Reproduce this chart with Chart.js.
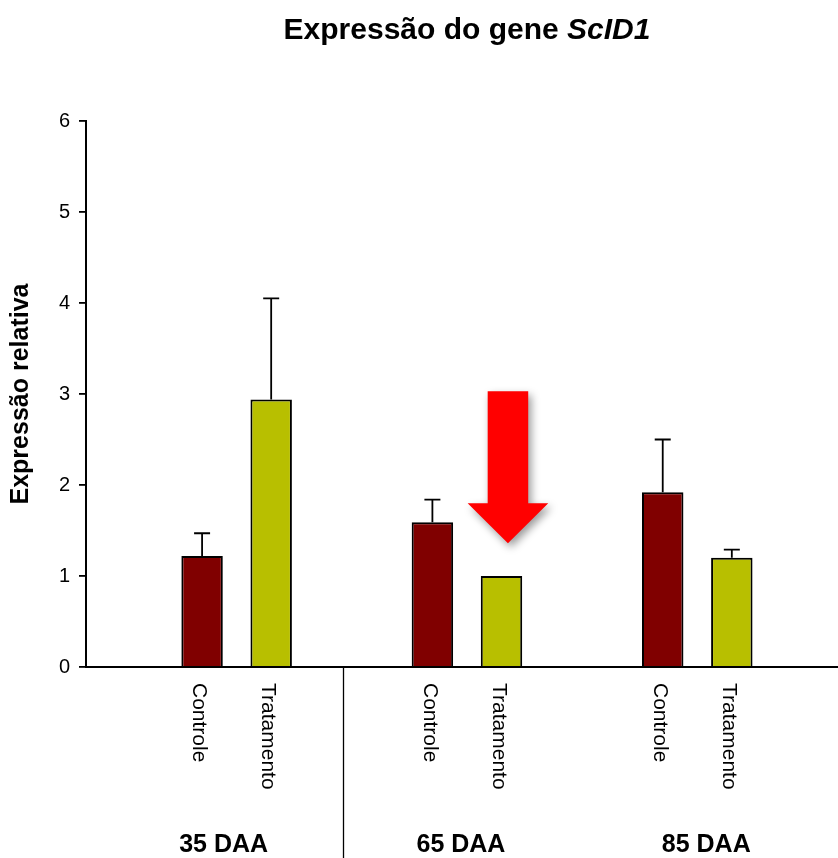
<!DOCTYPE html>
<html>
<head>
<meta charset="utf-8">
<script src="https://cdn.jsdelivr.net/npm/chart.js@4/dist/chart.umd.min.js"></script>
<style>
  html, body { margin: 0; padding: 0; background: #ffffff; }
  #wrap { width: 838px; height: 858px; position: relative; }
</style>
</head>
<body>
<div id="wrap"><canvas id="c"></canvas></div>
<script>
// Relative expression of the ScID1 gene at three sampling times
const groups = ['35 DAA', '65 DAA', '85 DAA'];
const treatments = ['Controle', 'Tratamento'];
const controle = [1.22, 1.59, 1.92];
const controleErr = [0.25, 0.25, 0.58];
const tratamento = [2.94, 1.00, 1.20];
const tratamentoErr = [1.11, 0, 0.09];
const yTicks = [0, 1, 2, 3, 4, 5, 6];

const FONT = "'Liberation Sans', Arial, Helvetica, sans-serif";

// group index on a numeric axis (1, 2, 3)
const toPoints = arr => arr.map((v, i) => ({ x: i + 1, y: v }));

// upper error whiskers with a cap
const errorBars = {
  id: 'errorBars',
  afterDatasetsDraw(chart) {
    const { ctx, scales: { y } } = chart;
    ctx.save();
    ctx.strokeStyle = '#000';
    ctx.lineWidth = 1.8;
    chart.data.datasets.forEach((ds, di) => {
      const meta = chart.getDatasetMeta(di);
      meta.data.forEach((bar, i) => {
        const err = ds.errors[i];
        if (!err) return;
        const top = y.getPixelForValue(ds.data[i].y + err);
        ctx.beginPath();
        ctx.moveTo(bar.x, bar.y);
        ctx.lineTo(bar.x, top);
        ctx.moveTo(bar.x - 8, top);
        ctx.lineTo(bar.x + 8, top);
        ctx.stroke();
      });
    });
    ctx.restore();
  }
};

// red arrow pointing down at the 65 DAA treatment bar
const downArrow = {
  id: 'downArrow',
  afterDatasetsDraw(chart, args, o) {
    const { ctx, scales: { x, y } } = chart;
    const cx = x.getPixelForValue(o.x);
    const sh = x.getPixelForValue(o.x + o.shaftHalf) - cx;
    const hh = x.getPixelForValue(o.x + o.headHalf) - cx;
    const yTop = y.getPixelForValue(o.top);
    const yNeck = y.getPixelForValue(o.neck);
    const yTip = y.getPixelForValue(o.tip);
    ctx.save();
    ctx.shadowColor = 'rgba(0,0,0,0.4)';
    ctx.shadowBlur = 8;
    ctx.shadowOffsetX = 3;
    ctx.shadowOffsetY = 4;
    ctx.fillStyle = '#ff0000';
    ctx.beginPath();
    ctx.moveTo(cx - sh, yTop);
    ctx.lineTo(cx + sh, yTop);
    ctx.lineTo(cx + sh, yNeck);
    ctx.lineTo(cx + hh, yNeck);
    ctx.lineTo(cx, yTip);
    ctx.lineTo(cx - hh, yNeck);
    ctx.lineTo(cx - sh, yNeck);
    ctx.closePath();
    ctx.fill();
    ctx.restore();
  }
};

// title, per-bar labels, group labels and the divider below the axis
const annotations = {
  id: 'annotations',
  afterDraw(chart, args, o) {
    const { ctx, chartArea, scales: { x } } = chart;
    ctx.save();
    ctx.fillStyle = '#000';

    // title with the gene name in italics
    const t1 = 'Expressão do gene ';
    const t2 = 'ScID1';
    ctx.font = `bold ${o.titleSize}px ${FONT}`;
    const w1 = ctx.measureText(t1).width;
    ctx.font = `italic bold ${o.titleSize}px ${FONT}`;
    const w2 = ctx.measureText(t2).width;
    const tx = o.titleCenter - (w1 + w2) / 2;
    ctx.textBaseline = 'alphabetic';
    ctx.textAlign = 'left';
    ctx.font = `bold ${o.titleSize}px ${FONT}`;
    ctx.fillText(t1, tx, o.titleBaseline);
    ctx.font = `italic bold ${o.titleSize}px ${FONT}`;
    ctx.fillText(t2, tx + w1, o.titleBaseline);

    // rotated labels under each bar
    ctx.font = `${o.barLabelSize}px ${FONT}`;
    ctx.textBaseline = 'middle';
    chart.data.datasets.forEach((ds, di) => {
      chart.getDatasetMeta(di).data.forEach(bar => {
        ctx.save();
        ctx.translate(bar.x - 3, chartArea.bottom + 16);
        ctx.rotate(Math.PI / 2);
        ctx.fillText(ds.label, 0, 0);
        ctx.restore();
      });
    });

    // group labels
    ctx.font = `bold ${o.groupSize}px ${FONT}`;
    ctx.textAlign = 'center';
    ctx.textBaseline = 'alphabetic';
    groups.forEach((g, i) => {
      ctx.fillText(g, x.getPixelForValue(i + 1) + o.groupNudge[i], o.groupBaseline);
    });

    // divider between the first and second group
    const dx = Math.round(x.getPixelForValue(o.divider)) + 0.5;
    ctx.strokeStyle = '#000';
    ctx.lineWidth = 1.3;
    ctx.beginPath();
    ctx.moveTo(dx, chartArea.bottom);
    ctx.lineTo(dx, chart.height);
    ctx.stroke();
    ctx.restore();
  }
};

new Chart(document.getElementById('c'), {
  type: 'bar',
  data: {
    datasets: [
      {
        label: treatments[0],
        data: toPoints(controle),
        errors: controleErr,
        backgroundColor: '#800000',
        borderColor: '#000',
        borderWidth: 2
      },
      {
        label: treatments[1],
        data: toPoints(tratamento),
        errors: tratamentoErr,
        backgroundColor: '#b8bf00',
        borderColor: '#000',
        borderWidth: 2
      }
    ]
  },
  options: {
    responsive: true,
    maintainAspectRatio: false,
    animation: false,
    categoryPercentage: 0.6,
    barPercentage: 0.6,
    layout: { padding: { top: 121, left: 0, right: 0, bottom: 0 } },
    scales: {
      x: {
        type: 'linear',
        offset: false,
        min: 0.346,
        max: 3.611,
        ticks: { display: false, stepSize: 1, includeBounds: false },
        grid: { display: false },
        border: { display: true, color: '#000', width: 2 },
        afterFit: s => { s.height = 191; }
      },
      y: {
        min: yTicks[0],
        max: yTicks[yTicks.length - 1],
        ticks: {
          stepSize: 1,
          color: '#000',
          padding: 9,
          font: { family: FONT, size: 20 }
        },
        grid: {
          display: true,
          drawOnChartArea: false,
          drawTicks: true,
          tickLength: 7,
          color: '#000',
          lineWidth: 1.8
        },
        border: { display: true, color: '#000', width: 2 },
        title: {
          display: true,
          text: 'Expressão relativa',
          color: '#000',
          font: { family: FONT, size: 25, weight: 'bold' },
          padding: { top: 6, bottom: 0 }
        },
        afterFit: s => { s.width = 86; }
      }
    },
    plugins: {
      legend: { display: false },
      tooltip: { enabled: false },
      downArrow: { x: 2.178, shaftHalf: 0.088, headHalf: 0.175, top: 3.03, neck: 1.8, tip: 1.36 },
      annotations: {
        titleSize: 30, titleCenter: 467, titleBaseline: 39,
        barLabelSize: 21,
        groupSize: 25, groupBaseline: 852, groupNudge: [-13, -6, 9],
        divider: 1.462
      }
    }
  },
  plugins: [errorBars, downArrow, annotations]
});
</script>
</body>
</html>
